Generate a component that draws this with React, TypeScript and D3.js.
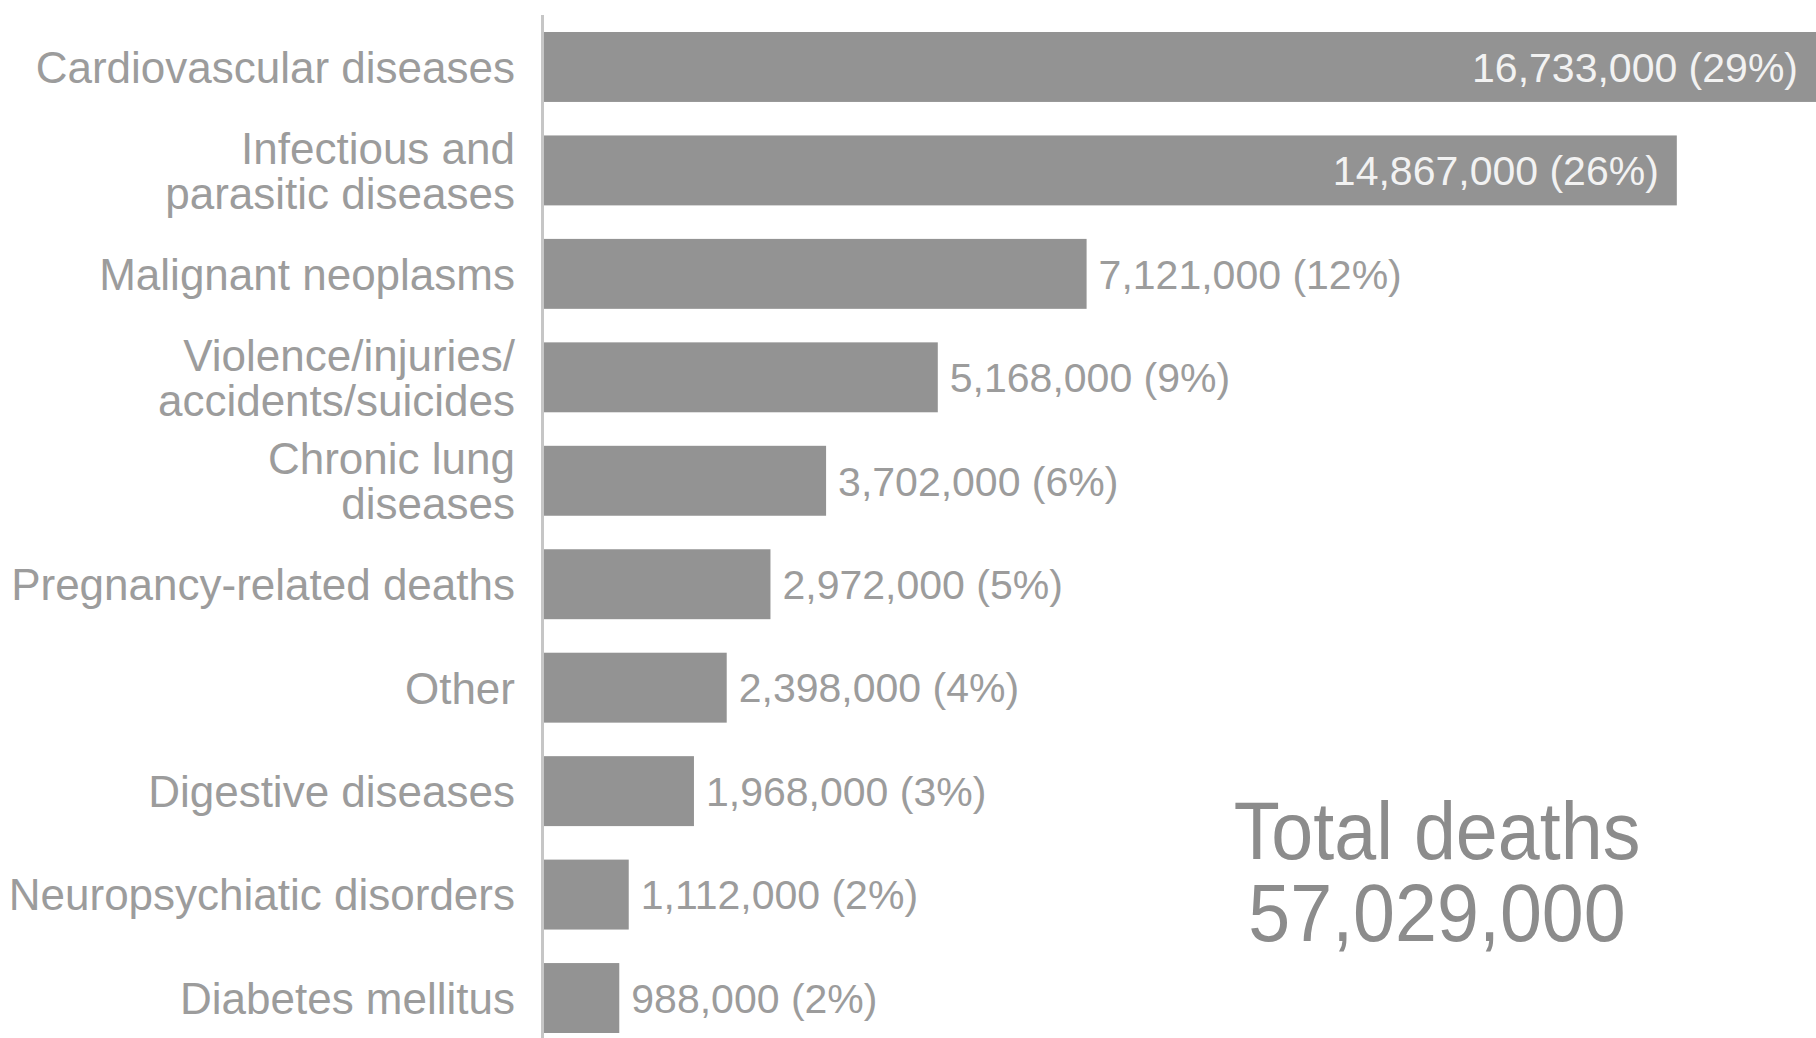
import React from "react";
import * as d3 from "d3";

const categories: string[][] = [
  ["Cardiovascular diseases"],
  ["Infectious and", "parasitic diseases"],
  ["Malignant neoplasms"],
  ["Violence/injuries/", "accidents/suicides"],
  ["Chronic lung", "diseases"],
  ["Pregnancy-related deaths"],
  ["Other"],
  ["Digestive diseases"],
  ["Neuropsychiatic disorders"],
  ["Diabetes mellitus"],
];
const deaths: number[] = [16733000, 14867000, 7121000, 5168000, 3702000, 2972000, 2398000, 1968000, 1112000, 988000];
const percents: number[] = [29, 26, 12, 9, 6, 5, 4, 3, 2, 2];
const insideLabel: boolean[] = [true, true, false, false, false, false, false, false, false, false];
const totalTitle = "Total deaths";
const totalDeaths = 57029000;

const W = 1816;
const H = 1038;
const FONT = "'Liberation Sans', Arial, Helvetica, sans-serif";

export default function App() {
  const keys = categories.map((c) => c.join(" "));
  const y = d3.scaleBand<string>().domain(keys).range([32, 1033]).paddingInner(0.324).paddingOuter(0);
  const x = d3.scaleLinear().domain([0, 16733000]).range([544, 1819]);
  const fmt = d3.format(",");
  const bw = y.bandwidth();

  return (
    <svg width={W} height={H} style={{ position: "absolute", left: 0, top: 0, background: "#fff" }} fontFamily={FONT}>
      <rect x={0} y={0} width={W} height={H} fill="#ffffff" />
      {keys.map((k, i) => {
        const y0 = y(k)!;
        const cy = y0 + bw / 2;
        const lines = categories[i];
        const lh = 45;
        const startY = cy - ((lines.length - 1) * lh) / 2;
        const xEnd = x(deaths[i]);
        const label = `${fmt(deaths[i])} (${percents[i]}%)`;
        return (
          <g key={k}>
            <rect x={x(0)} y={y0} width={xEnd - x(0)} height={bw} fill="#939393" />
            <text textAnchor="end" fontSize={44} fill="#9c9c9c">
              {lines.map((ln, j) => (
                <tspan key={j} x={515} y={startY + j * lh} dy="0.36em">
                  {ln}
                </tspan>
              ))}
            </text>
            {insideLabel[i] ? (
              <text x={Math.min(xEnd, W) - 18} y={cy} dy="0.36em" textAnchor="end" fontSize={41} fill="#f2f2f2">
                {label}
              </text>
            ) : (
              <text x={xEnd + 12} y={cy} dy="0.36em" textAnchor="start" fontSize={41} fill="#9c9c9c">
                {label}
              </text>
            )}
          </g>
        );
      })}
      <line x1={542.5} x2={542.5} y1={15} y2={H} stroke="#c6c6c6" strokeWidth={3} />
      <g fill="#8c8c8c" fontSize={82} textAnchor="middle">
        <text transform="translate(1437,859) scale(0.92,1)">{totalTitle}</text>
        <text transform="translate(1437,941) scale(0.92,1)">{fmt(totalDeaths)}</text>
      </g>
    </svg>
  );
}
